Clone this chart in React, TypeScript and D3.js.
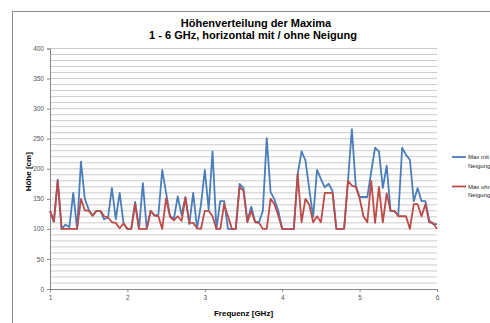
import React, { useEffect, useRef } from 'react';
import * as d3 from 'd3';

// frequency steps 1.00 .. 6.00 GHz (0.05 GHz)
const freqs: number[] = d3.range(0, 101).map(i => +(1 + i * 0.05).toFixed(2));

const maxMit: number[] = [
  130, 112, 182, 100, 107, 103, 160, 100, 212, 150,
  132, 122, 130, 130, 116, 119, 168, 116, 160, 109,
  100, 100, 145, 100, 176, 100, 130, 123, 123, 198,
  160, 122, 116, 154, 123, 153, 108, 160, 101, 140,
  198, 132, 229, 100, 146, 146, 100, 100, 100, 175,
  168, 113, 137, 112, 111, 130, 251, 161, 149, 130,
  100, 100, 100, 100, 191, 229, 214, 166, 120, 198,
  183, 169, 175, 163, 100, 100, 100, 180, 266, 172,
  153, 153, 153, 195, 235, 229, 168, 205, 130, 129,
  123, 235, 223, 215, 146, 168, 146, 146, 114, 108, 108,
];

const maxOhne: number[] = [
  130, 112, 180, 100, 100, 100, 100, 100, 150, 131,
  130, 122, 130, 130, 121, 119, 111, 110, 101, 109,
  100, 100, 141, 100, 100, 100, 130, 122, 121, 100,
  151, 120, 114, 121, 113, 152, 110, 110, 101, 100,
  130, 130, 121, 100, 100, 141, 121, 100, 100, 170,
  163, 111, 130, 111, 110, 100, 100, 150, 141, 122,
  100, 100, 100, 100, 191, 111, 150, 140, 111, 121,
  111, 160, 160, 160, 100, 100, 100, 180, 172, 170,
  151, 121, 111, 180, 110, 170, 111, 159, 130, 130,
  121, 121, 121, 100, 141, 141, 121, 141, 111, 110, 100,
];

const seriesNames: string[][] = [['Max mit', 'Neigung'], ['Max ohne', 'Neigung']];
const seriesColors: string[] = ['#4a7ebb', '#be4b48'];
const xTicks: number[] = [1, 2, 3, 4, 5, 6];
const yTicks: number[] = [0, 50, 100, 150, 200, 250, 300, 350, 400];
const yGrid: number[] = d3.range(10, 401, 10);

const App = () => {
  const svgRef = useRef<SVGSVGElement>(null);

  useEffect(() => {
    const svg = d3.select(svgRef.current);
    const width = 490;
    const height = 323;
    const margin = { top: 48.5, right: 53, bottom: 34, left: 50 };
    const font = 'Liberation Sans, Arial, sans-serif';

    svg.attr('width', width).attr('height', height);

    const x = d3.scaleLinear().domain([1, 6]).range([margin.left, width - margin.right]);
    const y = d3.scaleLinear().domain([0, 400]).range([height - margin.bottom, margin.top]);

    // chart frame
    svg.append('rect')
      .attr('x', 12.5).attr('y', 11.5)
      .attr('width', 500).attr('height', 330)
      .attr('fill', '#fff').attr('stroke', '#8c8c8c').attr('stroke-width', 1);

    // titles
    const title = svg.append('text')
      .attr('text-anchor', 'middle')
      .attr('font-family', font).attr('font-weight', 'bold').attr('font-size', 11)
      .attr('fill', '#000');
    title.append('tspan').attr('x', 256).attr('y', 27).text('Höhenverteilung der Maxima');
    title.append('tspan').attr('x', 253).attr('y', 38.5).text('1 - 6 GHz, horizontal mit / ohne Neigung');

    // grid lines
    svg.append('g')
      .selectAll('line')
      .data(yGrid)
      .enter()
      .append('line')
      .attr('x1', x(1)).attr('x2', x(6))
      .attr('y1', d => y(d)).attr('y2', d => y(d))
      .attr('stroke', '#cccccc').attr('stroke-width', 1);

    // y axis
    const yAxis = svg.append('g')
      .attr('transform', `translate(${x(1)},0)`)
      .call(d3.axisLeft(y).tickValues(yTicks).tickSize(3).tickPadding(3));
    yAxis.select('.domain').attr('stroke', '#888');
    yAxis.selectAll('.tick line').attr('stroke', '#888');
    yAxis.selectAll('.tick text').attr('font-family', font).attr('font-size', 6.5).attr('fill', '#555');

    // x axis
    const xAxis = svg.append('g')
      .attr('transform', `translate(0,${y(0)})`)
      .call(d3.axisBottom(x).tickValues(xTicks).tickSize(3).tickPadding(3).tickFormat(d3.format('d')));
    xAxis.select('.domain').attr('stroke', '#888');
    xAxis.selectAll('.tick line').attr('stroke', '#888');
    xAxis.selectAll('.tick text').attr('font-family', font).attr('font-size', 6.5).attr('fill', '#555');

    // axis titles
    svg.append('text')
      .attr('x', (x(1) + x(6)) / 2).attr('y', 316)
      .attr('text-anchor', 'middle')
      .attr('font-family', font).attr('font-weight', 'bold').attr('font-size', 8)
      .text('Frequenz [GHz]');
    svg.append('text')
      .attr('transform', `translate(31,${y(200) + 3}) rotate(-90)`)
      .attr('text-anchor', 'middle')
      .attr('font-family', font).attr('font-weight', 'bold').attr('font-size', 8)
      .text('Höhe [cm]');

    // lines
    const line = d3.line<number>()
      .x((d, i) => x(freqs[i]))
      .y(d => y(d));

    [maxMit, maxOhne].forEach((s, k) => {
      svg.append('path')
        .datum(s)
        .attr('d', line)
        .attr('fill', 'none')
        .attr('stroke', seriesColors[k])
        .attr('stroke-width', 1.8)
        .attr('stroke-linejoin', 'round');
    });

    // legend
    const legend = svg.selectAll('.legend')
      .data(seriesNames)
      .enter()
      .append('g')
      .attr('class', 'legend')
      .attr('transform', (d, i) => `translate(452,${157 + i * 29.5})`);

    legend.append('line')
      .attr('x1', 0).attr('x2', 14)
      .attr('y1', 0).attr('y2', 0)
      .attr('stroke', (d, i) => seriesColors[i])
      .attr('stroke-width', 1.8);

    const lt = legend.append('text')
      .attr('font-family', font).attr('font-size', 6).attr('fill', '#222');
    lt.append('tspan').attr('x', 16).attr('y', 2).text(d => d[0]);
    lt.append('tspan').attr('x', 16).attr('y', 10.5).text(d => d[1]);

    return () => { svg.selectAll('*').remove(); };
  }, []);

  return <svg ref={svgRef} style={{ position: 'absolute', left: 0, top: 0 }}></svg>;
};

export default App;
